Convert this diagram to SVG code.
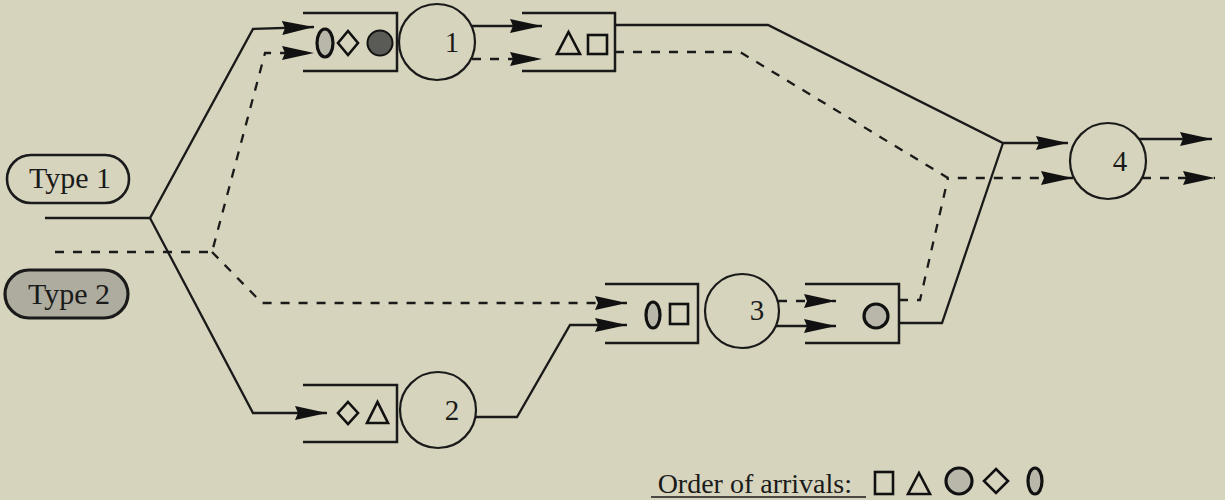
<svg xmlns="http://www.w3.org/2000/svg" width="1225" height="500" viewBox="0 0 1225 500">
<style>
.ln{fill:none;stroke:#1a1a1a;stroke-width:2.3}
.ds{fill:none;stroke:#1a1a1a;stroke-width:2.3;stroke-dasharray:9 9}
.box{fill:none;stroke:#1a1a1a;stroke-width:2.5}
.srv{fill:none;stroke:#1a1a1a;stroke-width:2.2}
.sym{fill:none;stroke:#111;stroke-width:2.6}
.gry{fill:#b9b7aa;stroke:#111;stroke-width:3.2}
.dark{fill:#5a5a56;stroke:#111;stroke-width:2}
.num{font-family:"Liberation Serif",serif;font-size:29px;fill:#1a1a1a;text-anchor:middle}
.lbl{font-family:"Liberation Serif",serif;font-size:30px;fill:#1a1a1a;text-anchor:middle}
.leg{font-family:"Liberation Serif",serif;font-size:28px;fill:#1a1a1a}
</style>
<defs>
<marker id="ah" markerUnits="userSpaceOnUse" markerWidth="34" markerHeight="16" refX="32" refY="8" orient="auto">
<path d="M0,1 L32,8 L0,15 L3,8 Z" fill="#111"/>
</marker>
</defs>
<rect width="1225" height="500" fill="#d7d4bd"/>

<g id="type1">
<rect x="7" y="155" width="122" height="48" rx="24" fill="none" stroke="#1a1a1a" stroke-width="2.6"/>
<text class="lbl" x="70" y="188">Type 1</text>
</g>
<g id="type2">
<rect x="5" y="270" width="123" height="48" rx="24" fill="#aeac9f" stroke="#1a1a1a" stroke-width="3.2"/>
<text class="lbl" x="69" y="304">Type 2</text>
</g>

<g id="connectors">
<path class="ln" d="M45,218 L150,218 L253,29 L314,27" marker-end="url(#ah)"/>
<path class="ln" d="M150,218 L253,413 L327,413" marker-end="url(#ah)"/>
<path class="ds" d="M55,252 L212,252 L265,53 L314,53" marker-end="url(#ah)"/>
<path class="ds" d="M212,252 L262,303 L627,303" marker-end="url(#ah)"/>
<path class="ln" d="M472,26 L542,26" marker-end="url(#ah)"/>
<path class="ds" d="M472,59 L542,59" marker-end="url(#ah)"/>
<path class="ln" d="M475,417 L517,417 L570,325 L627,325" marker-end="url(#ah)"/>
<path class="ds" d="M778,301 L836,301" marker-end="url(#ah)"/>
<path class="ln" d="M775,326 L836,326" marker-end="url(#ah)"/>
<path class="ln" d="M615,25 L768,25 L1003,143 L1068,143" marker-end="url(#ah)"/>
<path class="ln" d="M899,323 L942,323 L1003,143"/>
<path class="ds" d="M615,52 L740,52 L948,178 L1073,178" marker-end="url(#ah)"/>
<path class="ds" d="M899,300 L920,300 L948,178"/>
<path class="ln" d="M1139,139 L1212,139" marker-end="url(#ah)"/>
<path class="ds" d="M1142,178 L1215,178" marker-end="url(#ah)"/>
</g>

<g id="queue1">
<path class="box" d="M303,13 H397 V71 H303"/>
<ellipse class="gry" cx="325" cy="43" rx="8" ry="14"/>
<path class="sym" d="M348,31 L358,43 L348,55 L338,43 Z"/>
<circle class="dark" cx="380" cy="43" r="12.5"/>
</g>
<g id="server1">
<circle class="srv" cx="437" cy="42" r="38"/>
<text class="num" x="452" y="52">1</text>
</g>
<g id="queue1out">
<path class="box" d="M522,13 H615 V71 H522"/>
<path class="sym" d="M557,54 L580,54 L568.5,32 Z"/>
<rect class="sym" x="588" y="35" width="19" height="19"/>
</g>

<g id="queue2">
<path class="box" d="M303,385 H397 V442 H303"/>
<path class="sym" d="M348,402 L358,413 L348,424 L338,413 Z"/>
<path class="sym" d="M367,423 L388,423 L377.5,402 Z"/>
</g>
<g id="server2">
<circle class="srv" cx="438" cy="410" r="38"/>
<text class="num" x="452" y="420">2</text>
</g>

<g id="queue3">
<path class="box" d="M605,284 H698 V343 H605"/>
<ellipse class="gry" cx="653" cy="315" rx="7" ry="13"/>
<rect class="sym" x="670" y="304" width="18" height="20"/>
</g>
<g id="server3">
<circle class="srv" cx="742" cy="311" r="37"/>
<text class="num" x="757" y="320">3</text>
</g>
<g id="queue3out">
<path class="box" d="M805,284 H899 V343 H805"/>
<circle class="gry" cx="876" cy="316" r="12"/>
</g>

<g id="server4">
<circle class="srv" cx="1108" cy="161" r="38"/>
<text class="num" x="1120" y="171">4</text>
</g>

<g id="legend">
<text class="leg" x="852" y="493" text-anchor="end">Order of arrivals:</text>
<line x1="651" y1="497" x2="866" y2="497" stroke="#1a1a1a" stroke-width="1.6"/>
<rect class="sym" x="875" y="472" width="18" height="22"/>
<path class="sym" d="M908,494 L930,494 L919,473 Z"/>
<circle class="gry" cx="959" cy="481" r="13"/>
<path class="sym" d="M996,469 L1008,481 L996,493 L984,481 Z"/>
<ellipse class="gry" cx="1035" cy="481" rx="7" ry="13"/>
</g>
</svg>
